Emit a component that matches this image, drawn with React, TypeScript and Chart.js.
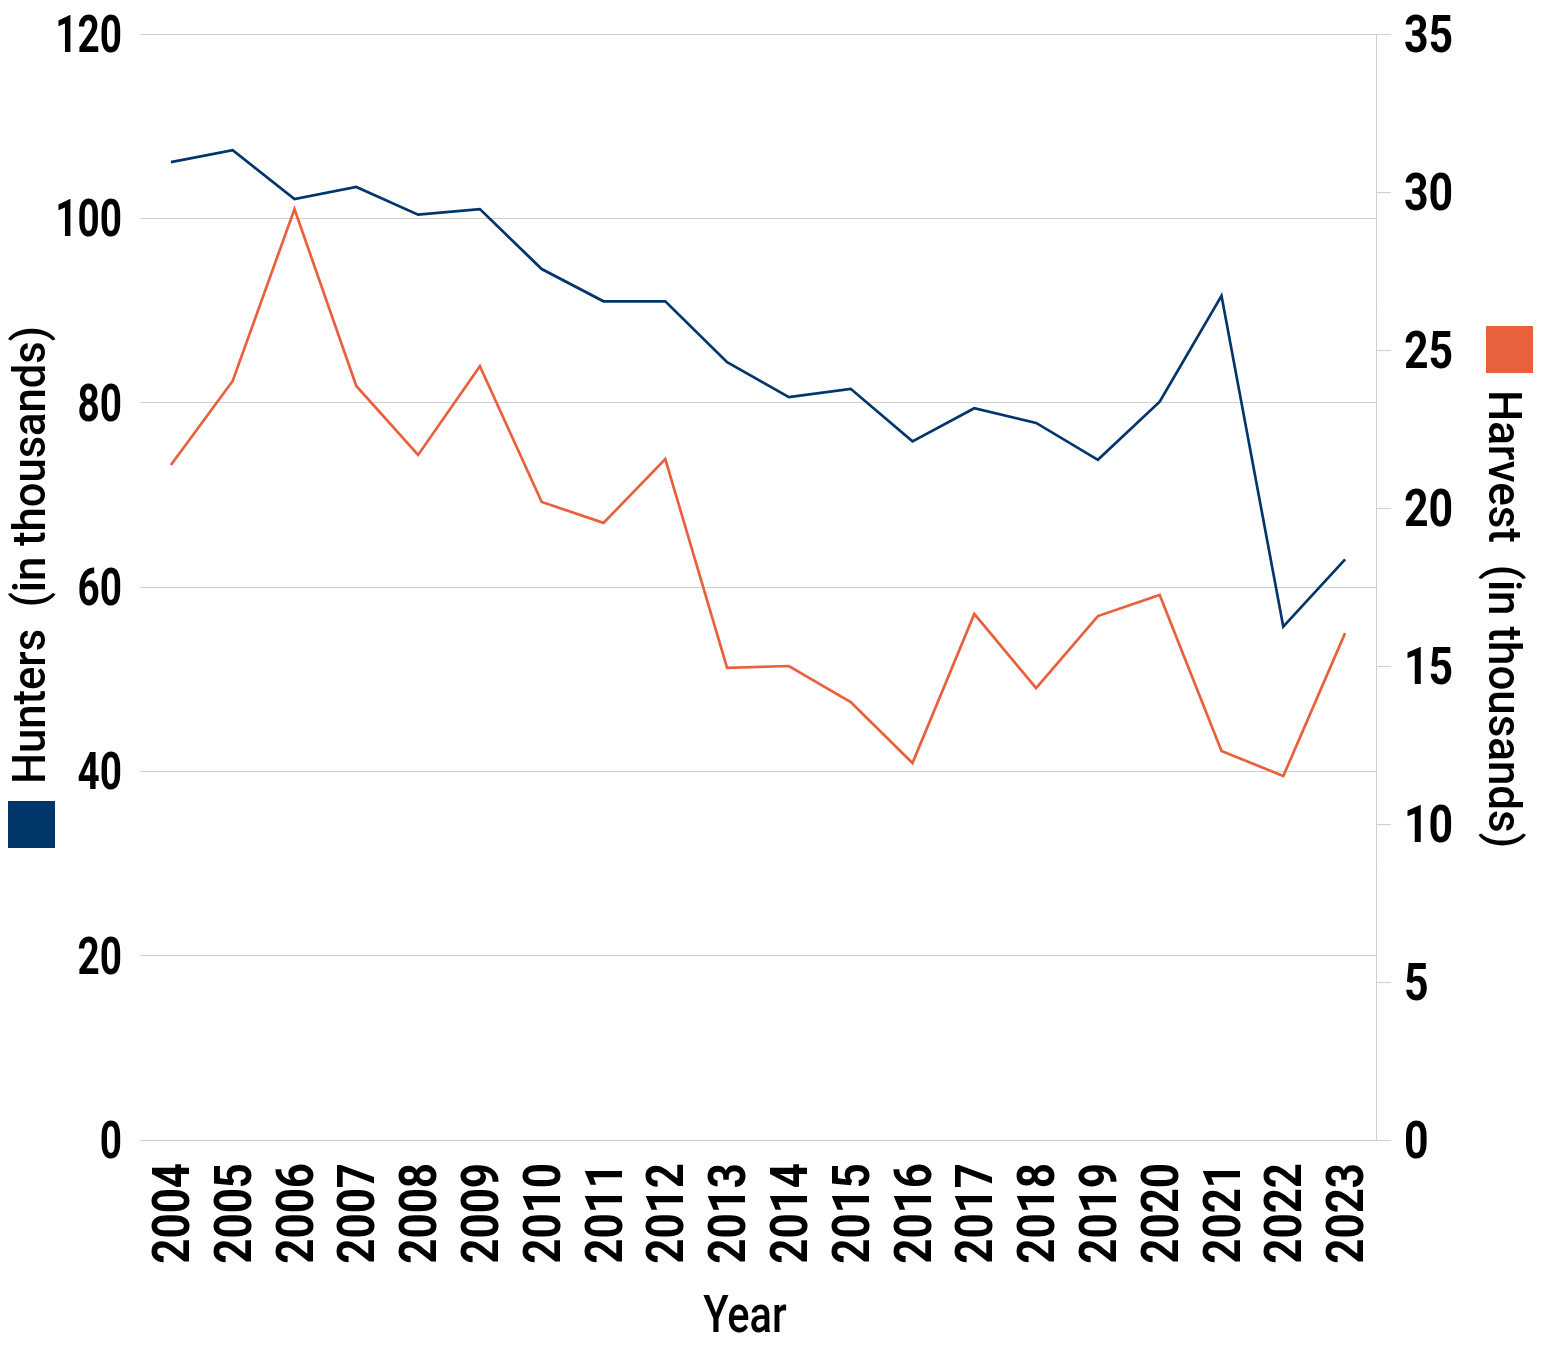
import React, { useEffect, useRef } from "react";
import { Chart, registerables } from "chart.js";

Chart.register(...registerables);

const years = ["2004","2005","2006","2007","2008","2009","2010","2011","2012","2013","2014","2015","2016","2017","2018","2019","2020","2021","2022","2023"];
const hunters = [106.1,107.4,102.1,103.4,100.4,101.0,94.5,91.0,91.0,84.4,80.6,81.5,75.8,79.4,77.8,73.8,80.1,91.6,55.7,63.0];
const harvest = [21.36,24.02,29.46,23.86,21.68,24.49,20.19,19.53,21.55,14.94,15.0,13.86,11.93,16.65,14.3,16.58,17.25,12.31,11.52,16.04];

const leftTitle = "Hunters  (in thousands)";
const rightTitle = "Harvest  (in thousands)";
const xTitle = "Year";

const BLUE = "#003669";
const ORANGE = "#e8603c";
const FONT = "Roboto, 'Liberation Sans', sans-serif";

// condensed text drawing helper
function condensedText(ctx: any, text: string, x: number, y: number, rot: number, sx: number, align: string) {
  ctx.save();
  ctx.translate(x, y);
  if (rot) ctx.rotate(rot);
  ctx.scale(sx, 1);
  ctx.textAlign = align;
  ctx.fillText(text, 0, 0);
  ctx.restore();
}

const textPlugin = {
  id: "condensedText",
  afterDraw(chart: any) {
    const ctx = chart.ctx;
    const area = chart.chartArea;
    const sy = chart.scales.y;
    const sy1 = chart.scales.y1;
    const sxs = chart.scales.x;
    ctx.save();
    ctx.fillStyle = "#000";
    ctx.textBaseline = "alphabetic";

    // y tick labels
    ctx.font = `bold 51px ${FONT}`;
    const cap = 18;
    sy.ticks.forEach((t: any, i: number) => {
      condensedText(ctx, String(t.label), 122, sy.getPixelForTick(i) + cap, 0, 0.76, "right");
    });
    sy1.ticks.forEach((t: any, i: number) => {
      condensedText(ctx, String(t.label), 1404, sy1.getPixelForTick(i) + cap, 0, 0.84, "left");
    });
    // x tick labels (rotated)
    ctx.font = `bold 51px ${FONT}`;
    sxs.ticks.forEach((t: any, i: number) => {
      condensedText(ctx, String(t.label), sxs.getPixelForTick(i) + cap, 1163, -Math.PI / 2, 0.86, "right");
    });

    // side titles with colour squares
    const cy = (area.top + area.bottom) / 2;
    const sq = 47;
    const gap = 17;
    const targetLen = 458;
    ctx.font = `500 46px ${FONT}`;
    {
      const w = ctx.measureText(leftTitle).width;
      const sx = targetLen / w;
      const total = sq + gap + targetLen;
      const start = cy + total / 2;
      ctx.fillStyle = BLUE;
      ctx.fillRect(8, start - sq, sq, sq);
      ctx.fillStyle = "#000";
      condensedText(ctx, leftTitle, 45, start - sq - gap, -Math.PI / 2, sx, "left");
    }
    {
      const w = ctx.measureText(rightTitle).width;
      const sx = targetLen / w;
      const total = sq + gap + targetLen;
      const start = cy - total / 2;
      ctx.fillStyle = ORANGE;
      ctx.fillRect(1486, start, sq, sq);
      ctx.fillStyle = "#000";
      condensedText(ctx, rightTitle, 1489, start + sq + gap, Math.PI / 2, sx, "left");
    }
    // x title
    ctx.font = `500 52px ${FONT}`;
    ctx.fillStyle = "#000";
    condensedText(ctx, xTitle, (area.left + area.right) / 2 - 13, 1332, 0, 0.8, "center");
    ctx.restore();
  },
};

export default function App() {
  const ref = useRef<HTMLCanvasElement>(null);
  useEffect(() => {
    const canvas = ref.current!;
    const hidden = "rgba(0,0,0,0)";
    const chart = new Chart(canvas, {
      type: "line",
      data: {
        labels: years,
        datasets: [
          {
            label: "Hunters",
            data: hunters,
            borderColor: BLUE,
            backgroundColor: BLUE,
            borderWidth: 2.7,
            pointRadius: 0,
            tension: 0,
            yAxisID: "y",
          },
          {
            label: "Harvest",
            data: harvest,
            borderColor: ORANGE,
            backgroundColor: ORANGE,
            borderWidth: 2.7,
            pointRadius: 0,
            tension: 0,
            yAxisID: "y1",
          },
        ],
      },
      options: {
        responsive: false,
        animation: false,
        devicePixelRatio: 1,
        layout: { padding: 0 },
        plugins: {
          legend: { display: false },
          tooltip: { enabled: false },
        },
        scales: {
          x: {
            offset: true,
            grid: { display: false, drawTicks: false },
            border: { display: false },
            ticks: {
              color: hidden,
              font: { family: FONT, size: 40 },
              minRotation: 90,
              maxRotation: 90,
              autoSkip: false,
            },
            afterFit: (s: any) => { s.height = 207; s.paddingLeft = 0; s.paddingRight = 0; },
          },
          y: {
            position: "left",
            min: 0,
            max: 120,
            grid: { color: "#cfcfcf", lineWidth: 1, drawTicks: false },
            border: { display: false },
            ticks: { stepSize: 20, color: hidden, font: { family: FONT, size: 40 } },
            afterFit: (s: any) => { s.width = 140; s.paddingTop = 34; s.paddingBottom = 0; },
          },
          y1: {
            position: "right",
            min: 0,
            max: 35,
            grid: { drawOnChartArea: false, color: "#cfcfcf", tickLength: 15 },
            border: { display: true, color: "#cfcfcf" },
            ticks: { stepSize: 5, color: hidden, font: { family: FONT, size: 40 } },
            afterFit: (s: any) => { s.width = 176; s.paddingTop = 34; s.paddingBottom = 0; },
          },
        },
      },
      plugins: [textPlugin],
    } as any);
    return () => chart.destroy();
  }, []);
  return (
    <div style={{ position: "absolute", left: 0, top: 0, width: 1552, height: 1347, background: "#fff" }}>
      <canvas ref={ref} width={1552} height={1347} style={{ display: "block", width: 1552, height: 1347 }} />
    </div>
  );
}
